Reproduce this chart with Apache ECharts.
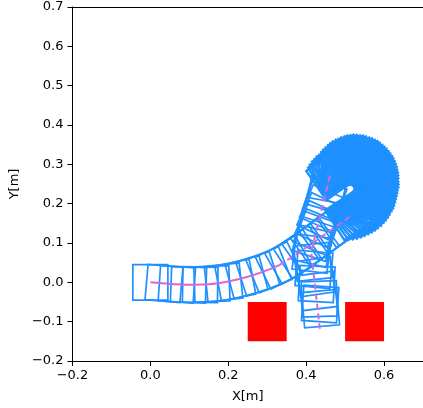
<!DOCTYPE html>
<html>
<head>
<meta charset="utf-8">
<script src="https://cdn.jsdelivr.net/npm/echarts@6/dist/echarts.min.js"></script>
<style>
  html, body { margin: 0; padding: 0; background: #fff; }
  #chart { width: 423px; height: 408px; }
</style>
</head>
<body>
<div id="chart"></div>
<script>
// robot footprint poses [x, y, heading deg]
const posesPathA = [
  [0.000, 0.000, 0], [0.035, -0.003, -5], [0.068, -0.005, -4], [0.098, -0.006, -2],
  [0.128, -0.006, -1], [0.158, -0.004, 2], [0.188, 0.000, 6], [0.218, 0.006, 11],
  [0.247, 0.013, 15], [0.276, 0.022, 18], [0.304, 0.032, 22], [0.330, 0.043, 26],
  [0.355, 0.057, 30], [0.378, 0.072, 33], [0.400, 0.087, 35], [0.422, 0.103, 36],
  [0.445, 0.119, 36], [0.468, 0.135, 35], [0.490, 0.151, 34]
];

// the turn-around loop (dense footprints)
const posesLoop = [
  [0.511, 0.170, 33], [0.518, 0.171, 37], [0.524, 0.173, 41], [0.530, 0.175, 45],
  [0.536, 0.178, 49], [0.541, 0.181, 53], [0.546, 0.185, 57], [0.551, 0.188, 61],
  [0.555, 0.192, 65], [0.558, 0.196, 69], [0.562, 0.200, 73], [0.565, 0.205, 77],
  [0.567, 0.209, 81], [0.569, 0.214, 85], [0.570, 0.218, 89], [0.572, 0.223, 93],
  [0.573, 0.227, 97], [0.573, 0.231, 101], [0.573, 0.235, 105], [0.573, 0.239, 109],
  [0.573, 0.243, 113], [0.573, 0.246, 117], [0.573, 0.249, 121], [0.574, 0.252, 125],
  [0.574, 0.255, 129], [0.573, 0.258, 133], [0.573, 0.262, 137], [0.573, 0.265, 141],
  [0.573, 0.268, 145], [0.572, 0.271, 149], [0.572, 0.274, 153], [0.571, 0.277, 157],
  [0.570, 0.280, 161], [0.569, 0.283, 165], [0.568, 0.285, 169], [0.566, 0.288, 173],
  [0.564, 0.291, 177], [0.562, 0.294, 181], [0.560, 0.296, 185], [0.558, 0.298, 189],
  [0.555, 0.301, 193], [0.553, 0.303, 197], [0.550, 0.304, 201], [0.547, 0.306, 205],
  [0.544, 0.307, 209], [0.540, 0.309, 213], [0.537, 0.310, 217], [0.534, 0.310, 221],
  [0.530, 0.311, 225], [0.526, 0.312, 229], [0.523, 0.311, 233], [0.519, 0.311, 237],
  [0.516, 0.310, 241], [0.512, 0.309, 245], [0.509, 0.307, 249], [0.506, 0.306, 253],
  [0.502, 0.304, 257], [0.499, 0.302, 261], [0.497, 0.300, 265], [0.494, 0.297, 269],
  [0.491, 0.295, 273], [0.489, 0.292, 277], [0.487, 0.289, 281], [0.482, 0.288, 285],
  [0.478, 0.285, 289], [0.474, 0.283, 293], [0.470, 0.279, 297], [0.467, 0.276, 301],
  [0.463, 0.272, 305]
];

const posesPathB = [
  [0.457, 0.252, -100], [0.452, 0.231, -106], [0.447, 0.210, -110], [0.442, 0.189, -113],
  [0.436, 0.168, -115], [0.431, 0.148, -114], [0.426, 0.128, -112], [0.421, 0.110, -108],
  [0.417, 0.092, -103], [0.414, 0.073, -97], [0.417, 0.052, -84], [0.420, 0.033, -95],
  [0.424, 0.014, -82], [0.427, -0.004, -93], [0.430, -0.022, -83], [0.434, -0.042, -88],
  [0.436, -0.055, -94], [0.437, -0.067, -85]
];

// reference path (magenta)
const refPathSolid = [
  [0.000, 0.000], [0.050, -0.004], [0.100, -0.006], [0.150, -0.005], [0.200, 0.002],
  [0.250, 0.014], [0.300, 0.031], [0.330, 0.043]
];
const refPathDashA = [[0.330, 0.043], [0.380, 0.075], [0.450, 0.123], [0.511, 0.166]];
const refPathDashB = [[0.461, 0.270], [0.413, 0.077], [0.435, -0.118]];

// obstacles [xmin, ymin, xmax, ymax]
const obstacles = [
  [0.25, -0.15, 0.35, -0.05],
  [0.50, -0.15, 0.60, -0.05]
];

const xTicks = { min: -0.2, max: 0.7, step: 0.2 };
const yTicks = { min: -0.2, max: 0.7, step: 0.1 };

const SIDE = 0.09;
const BLUE = '#1E90FF';
const MAGENTA = '#D966D9';
const FONT = 'DejaVu Sans';

function fmt(v) {
  return (v < 0 ? '\u2212' : '') + Math.abs(v).toFixed(1);
}

function squareRenderer(lineWidth) {
  return function (params, api) {
    const cx = api.value(0), cy = api.value(1);
    const th = api.value(2) * Math.PI / 180;
    const c = Math.cos(th), s = Math.sin(th), h = SIDE / 2;
    const pts = [[h, h], [-h, h], [-h, -h], [h, -h]].map(function (p) {
      return api.coord([cx + p[0] * c - p[1] * s, cy + p[0] * s + p[1] * c]);
    });
    return {
      type: 'polygon',
      shape: { points: pts },
      style: { fill: 'none', stroke: BLUE, lineWidth: lineWidth }
    };
  };
}

function renderObstacle(params, api) {
  const p0 = api.coord([api.value(0), api.value(3)]);
  const p1 = api.coord([api.value(2), api.value(1)]);
  return {
    type: 'rect',
    shape: { x: p0[0], y: p0[1], width: p1[0] - p0[0], height: p1[1] - p0[1] },
    style: { fill: '#FF0000' }
  };
}

const chart = echarts.init(document.getElementById('chart'));

const axisText = { fontFamily: FONT, fontSize: 13, color: '#000' };

const option = {
  animation: false,
  backgroundColor: '#fff',
  grid: { left: 71, top: 7, width: 356, height: 355 },
  xAxis: [{
    type: 'value',
    min: xTicks.min, max: xTicks.max, interval: xTicks.step,
    axisLine: { show: true, onZero: false, lineStyle: { color: '#000', width: 1 } },
    axisTick: { show: true, inside: false, length: 5, lineStyle: { color: '#000' } },
    axisLabel: Object.assign({ margin: 8, formatter: fmt, showMaxLabel: false }, axisText),
    splitLine: { show: false },
    name: 'X[m]', nameLocation: 'middle', nameGap: 29,
    nameTextStyle: axisText
  }, {
    type: 'value', position: 'top',
    min: xTicks.min, max: xTicks.max,
    axisLine: { show: true, onZero: false, lineStyle: { color: '#000', width: 1 } },
    axisTick: { show: false }, axisLabel: { show: false }, splitLine: { show: false }
  }],
  yAxis: {
    type: 'value',
    min: yTicks.min, max: yTicks.max, interval: yTicks.step,
    axisLine: { show: true, onZero: false, lineStyle: { color: '#000', width: 1 } },
    axisTick: { show: true, inside: false, length: 5, lineStyle: { color: '#000' } },
    axisLabel: Object.assign({ margin: 9, formatter: fmt }, axisText),
    splitLine: { show: false },
    name: 'Y[m]', nameLocation: 'middle', nameRotate: 90, nameGap: 48,
    nameTextStyle: axisText
  },
  series: [
    { type: 'custom', renderItem: squareRenderer(1.7), data: posesPathA, encode: { x: 0, y: 1 }, z: 2, silent: true },
    { type: 'custom', renderItem: squareRenderer(2.4), data: posesLoop, encode: { x: 0, y: 1 }, z: 2, silent: true },
    { type: 'custom', renderItem: squareRenderer(1.7), data: posesPathB, encode: { x: 0, y: 1 }, z: 2, silent: true },
    { type: 'line', data: refPathSolid, showSymbol: false, smooth: 0.3, z: 3, silent: true,
      lineStyle: { color: MAGENTA, width: 2 } },
    { type: 'line', data: refPathDashA, showSymbol: false, z: 3, silent: true,
      lineStyle: { color: MAGENTA, width: 2, type: [6, 4] } },
    { type: 'line', data: refPathDashB, showSymbol: false, z: 3, silent: true,
      lineStyle: { color: MAGENTA, width: 2, type: [6, 4] } },
    { type: 'custom', renderItem: renderObstacle, data: obstacles, encode: { x: [0, 2], y: [1, 3] }, z: 4, silent: true }
  ]
};

chart.setOption(option);
</script>
</body>
</html>
